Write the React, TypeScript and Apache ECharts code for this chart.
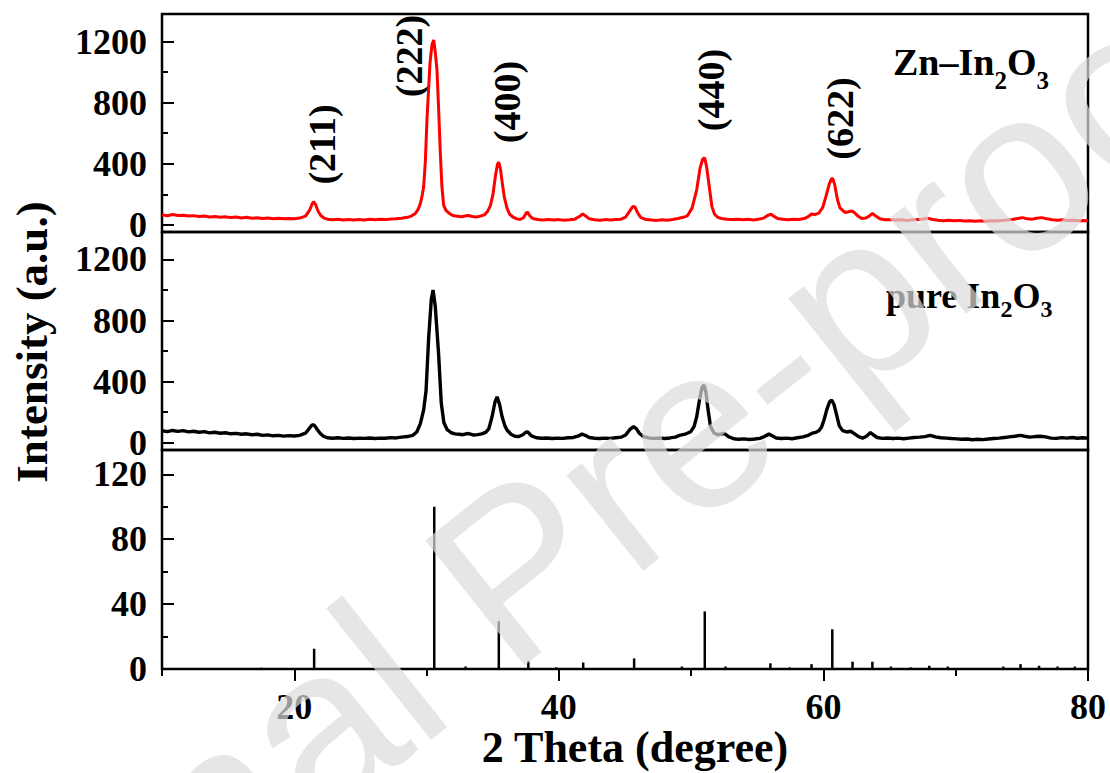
import React, { useEffect, useRef } from "react";
import * as echarts from "echarts";

const SERIF = "'Liberation Serif', 'Times New Roman', serif";

// Zn-doped In2O3 pattern: [2θ (deg), intensity (a.u.)]
const znIn2O3: [number, number][] = [
  [10.0, 66], [10.4, 60], [10.8, 68], [11.2, 62], [11.6, 64], [12.0, 58], [12.4, 61], [12.8, 55], [13.2, 58], [13.6, 52],
  [14.0, 56], [14.4, 50], [14.8, 53], [15.2, 49], [15.6, 52], [16.0, 46], [16.4, 50], [16.8, 44], [17.2, 47], [17.6, 42],
  [18.0, 45], [18.4, 41], [18.8, 44], [19.2, 40], [19.6, 43], [20.0, 41], [20.4, 45], [20.85, 58], [21.15, 95], [21.35, 138],
  [21.46, 152], [21.6, 135], [21.8, 90], [22.0, 62], [22.25, 45], [22.5, 38], [22.9, 34], [23.3, 37], [23.7, 33], [24.1, 36],
  [24.5, 32], [24.9, 35], [25.3, 33], [25.7, 37], [26.1, 34], [26.5, 38], [26.9, 35], [27.3, 39], [27.7, 41], [28.1, 44],
  [28.55, 50], [28.85, 58], [29.15, 75], [29.35, 100], [29.53, 140], [29.66, 190], [29.78, 250], [29.91, 420], [30.03, 690], [30.16, 900],
  [30.26, 1060], [30.41, 1180], [30.54, 1210], [30.66, 1130], [30.79, 1010], [30.91, 760], [31.04, 470], [31.16, 250], [31.29, 130], [31.46, 95],
  [31.66, 80], [31.86, 68], [32.06, 60], [32.36, 57], [32.66, 54], [32.96, 60], [33.17, 62], [33.47, 55], [33.77, 52], [34.07, 58],
  [34.37, 66], [34.62, 90], [34.82, 125], [35.02, 200], [35.22, 330], [35.37, 400], [35.46, 410], [35.58, 370], [35.73, 270], [35.88, 180],
  [36.08, 110], [36.28, 70], [36.53, 52], [36.83, 40], [37.08, 36], [37.33, 48], [37.53, 78], [37.63, 84], [37.78, 62], [38.03, 42],
  [38.4, 36], [38.8, 33], [39.2, 36], [39.6, 32], [40.0, 35], [40.4, 31], [40.8, 34], [41.2, 38], [41.55, 55], [41.8, 72],
  [42.0, 60], [42.3, 40], [42.7, 34], [43.1, 31], [43.5, 35], [43.9, 32], [44.3, 36], [44.7, 38], [45.05, 52], [45.35, 90],
  [45.6, 122], [45.75, 118], [45.95, 80], [46.2, 48], [46.6, 36], [47.0, 32], [47.4, 30], [47.8, 34], [48.2, 31], [48.6, 36],
  [49.0, 42], [49.4, 50], [49.72, 60], [50.07, 110], [50.42, 230], [50.67, 370], [50.87, 430], [51.02, 440], [51.17, 380], [51.37, 250],
  [51.57, 120], [51.77, 70], [52.02, 50], [52.3, 42], [52.7, 38], [53.1, 35], [53.5, 38], [53.9, 34], [54.3, 37], [54.7, 33],
  [55.1, 37], [55.48, 45], [55.78, 62], [56.03, 70], [56.23, 58], [56.53, 42], [56.93, 37], [57.33, 34], [57.73, 38], [58.13, 36],
  [58.55, 42], [58.85, 55], [59.1, 72], [59.35, 68], [59.65, 78], [59.95, 115], [60.2, 190], [60.45, 270], [60.6, 300], [60.7, 305],
  [60.85, 265], [61.05, 170], [61.25, 112], [61.45, 95], [61.65, 82], [61.9, 86], [62.16, 92], [62.36, 80], [62.61, 58], [62.91, 42],
  [63.21, 45], [63.46, 58], [63.71, 76], [63.96, 58], [64.26, 40], [64.66, 34], [65.06, 36], [65.46, 32], [65.86, 34], [66.26, 30],
  [66.66, 33], [67.06, 35], [67.46, 38], [67.87, 44], [68.27, 36], [68.67, 31], [69.07, 28], [69.47, 31], [69.87, 27], [70.27, 30],
  [70.67, 26], [71.07, 28], [71.47, 24], [71.87, 27], [72.27, 25], [72.67, 28], [73.07, 26], [73.47, 30], [73.87, 33], [74.27, 36],
  [74.67, 42], [75.05, 48], [75.4, 40], [75.8, 38], [76.1, 44], [76.5, 48], [76.9, 40], [77.3, 34], [77.7, 31], [78.1, 34],
  [78.5, 29], [78.9, 31], [79.3, 27], [79.65, 29], [80.0, 26],
];

// Undoped In2O3 pattern: [2θ (deg), intensity (a.u.)]
const pureIn2O3: [number, number][] = [
  [10.0, 78], [10.4, 72], [10.8, 80], [11.2, 74], [11.6, 79], [12.0, 71], [12.4, 75], [12.8, 68], [13.2, 72], [13.6, 64],
  [14.0, 68], [14.4, 62], [14.8, 65], [15.2, 58], [15.6, 61], [16.0, 55], [16.4, 58], [16.8, 52], [17.2, 55], [17.6, 48],
  [18.0, 51], [18.4, 45], [18.8, 48], [19.2, 43], [19.6, 46], [20.0, 44], [20.4, 48], [20.85, 62], [21.1, 90], [21.3, 112],
  [21.42, 118], [21.55, 110], [21.75, 85], [21.95, 62], [22.2, 42], [22.5, 32], [22.9, 29], [23.3, 32], [23.7, 28], [24.1, 31],
  [24.5, 27], [24.9, 30], [25.3, 28], [25.7, 31], [26.1, 27], [26.5, 30], [26.9, 29], [27.3, 33], [27.7, 31], [28.1, 36],
  [28.55, 40], [28.95, 48], [29.26, 70], [29.53, 125], [29.78, 215], [29.96, 340], [30.16, 690], [30.36, 940], [30.49, 1000], [30.66, 890],
  [30.91, 580], [31.11, 260], [31.31, 130], [31.56, 85], [31.86, 65], [32.16, 58], [32.46, 55], [32.76, 52], [33.06, 60], [33.26, 58],
  [33.56, 50], [33.86, 53], [34.16, 58], [34.47, 68], [34.7, 90], [34.95, 170], [35.17, 265], [35.33, 300], [35.52, 250], [35.71, 170],
  [35.92, 110], [36.08, 83], [36.38, 55], [36.68, 42], [36.98, 40], [37.28, 52], [37.53, 70], [37.68, 68], [37.93, 45], [38.3, 32],
  [38.7, 29], [39.1, 31], [39.5, 27], [39.9, 30], [40.3, 28], [40.7, 32], [41.1, 34], [41.5, 45], [41.75, 56], [42.0, 48],
  [42.3, 34], [42.7, 29], [43.1, 27], [43.5, 30], [43.9, 28], [44.3, 32], [44.7, 36], [45.05, 50], [45.35, 85], [45.65, 105],
  [45.85, 92], [46.1, 60], [46.4, 40], [46.8, 31], [47.2, 28], [47.6, 30], [48.0, 27], [48.4, 31], [48.8, 36], [49.2, 50],
  [49.62, 58], [49.97, 72], [50.22, 105], [50.42, 170], [50.62, 275], [50.82, 360], [50.97, 378], [51.12, 330], [51.27, 220], [51.47, 105],
  [51.72, 64], [52.02, 52], [52.32, 58], [52.52, 60], [52.82, 40], [53.22, 26], [53.6, 22], [54.0, 25], [54.4, 21], [54.8, 24],
  [55.2, 28], [55.53, 40], [55.88, 56], [56.13, 45], [56.43, 31], [56.83, 27], [57.23, 30], [57.63, 26], [58.03, 32], [58.45, 38],
  [58.85, 48], [59.15, 62], [59.43, 68], [59.65, 78], [59.85, 100], [60.05, 150], [60.25, 215], [60.45, 265], [60.62, 280], [60.8, 250],
  [61.0, 180], [61.2, 110], [61.45, 79], [61.76, 70], [62.06, 75], [62.36, 58], [62.66, 40], [62.96, 30], [63.26, 42], [63.56, 66],
  [63.76, 52], [64.06, 34], [64.46, 28], [64.86, 31], [65.26, 27], [65.66, 30], [66.06, 26], [66.46, 30], [66.86, 34], [67.27, 36],
  [67.67, 40], [68.07, 48], [68.47, 38], [68.87, 32], [69.27, 30], [69.67, 27], [70.07, 25], [70.47, 22], [70.87, 24], [71.27, 19],
  [71.67, 22], [72.07, 20], [72.47, 24], [72.87, 27], [73.27, 30], [73.67, 34], [74.07, 38], [74.47, 42], [74.9, 48], [75.2, 42],
  [75.6, 36], [76.0, 40], [76.4, 42], [76.8, 38], [77.2, 30], [77.6, 28], [78.0, 33], [78.4, 30], [78.8, 34], [79.2, 29],
  [79.6, 32], [80.0, 30],
];

// Standard cubic In2O3 reference lines: [2θ (deg), relative intensity]
const referenceLines: [number, number][] = [
  [17.5, 0.8], [21.5, 12.5], [24.8, 0.6], [30.58, 100], [32.95, 1.5], [35.46, 29.5], [37.69, 5], [39.8, 1],
  [41.84, 4], [45.69, 6.5], [49.3, 1.5], [51.03, 35.5], [52.6, 1.5], [55.99, 3.5], [57.45, 1], [59.1, 3],
  [60.67, 24.5], [62.2, 4.5], [63.7, 4.5], [65.1, 1.5], [66.6, 1], [68.0, 2], [69.4, 1.5], [73.6, 1.5],
  [74.9, 3], [76.3, 2], [77.7, 1.5], [79.0, 1.5],
];

const thetaMajorTicks = [20, 40, 60, 80];
const thetaMinorTicks = [10, 30, 50, 70];
const intensityMajorTicks = [0, 400, 800, 1200];
const intensityMinorTicks = [200, 600, 1000];
const referenceMajorTicks = [0, 40, 80, 120];
const referenceMinorTicks = [20, 60, 100];
const reflections = ["(211)", "(222)", "(400)", "(440)", "(622)"];

export default function App() {
  const ref = useRef<HTMLDivElement>(null);

  useEffect(() => {
    if (!ref.current) return;
    const chart = echarts.init(ref.current, null, { renderer: "svg" });

    const left = 162;
    const width = 926;
    const tickStyle = { color: "#000", width: 2 };
    const plain = (v: number) => String(v);
    const labelFont = { fontFamily: SERIF, fontWeight: "bold" as const, fontSize: 36, color: "#000" };

    const frame = (top: number, height: number) => ({
      left, width, top, height, show: true, borderColor: "#000", borderWidth: 2.5, backgroundColor: "transparent",
    });

    const bareX = (gridIndex: number) => ({
      type: "value", gridIndex, min: 10, max: 80, position: "bottom",
      axisLine: { show: false }, axisTick: { show: false }, axisLabel: { show: false }, splitLine: { show: false },
    });

    const yAxisPair = (gridIndex: number, min: number, max: number, major: number[], minor: number[]) => [
      {
        type: "value", gridIndex, min, max, position: "left",
        axisLine: { show: false },
        axisTick: { show: true, inside: true, length: 12, customValues: major, lineStyle: tickStyle },
        axisLabel: { show: true, customValues: major, margin: 15, formatter: plain, ...labelFont },
        splitLine: { show: false },
      },
      {
        type: "value", gridIndex, min, max, position: "left",
        axisLine: { show: false },
        axisTick: { show: true, inside: true, length: 6, customValues: minor, lineStyle: tickStyle },
        axisLabel: { show: false },
        splitLine: { show: false },
      },
    ];

    const hklPositions = [
      [321.5, 144.5], [409, 56], [506.7, 102], [711, 90], [840, 118.5],
    ];

    // Formula text with subscripts; sub tokens sit at the bottom of a taller line box.
    const formulaRich = (size: number, subSize: number, lineHeight: number) => ({
      m: { fontSize: size, fontWeight: "bold", fontFamily: SERIF, fill: "#000", lineHeight, verticalAlign: "middle" },
      s: { fontSize: subSize, fontWeight: "bold", fontFamily: SERIF, fill: "#000", lineHeight: subSize, verticalAlign: "bottom" },
    });

    chart.setOption({
      animation: false,
      backgroundColor: "#fff",
      grid: [frame(14, 218), frame(232, 218), frame(450, 219)],
      xAxis: [
        bareX(0),
        bareX(1),
        {
          type: "value", gridIndex: 2, min: 10, max: 80, position: "bottom",
          axisLine: { show: false },
          axisTick: { show: true, inside: false, length: 12, customValues: thetaMajorTicks, lineStyle: tickStyle },
          axisLabel: { show: true, customValues: thetaMajorTicks, margin: 20, formatter: plain, ...labelFont },
          splitLine: { show: false },
        },
        {
          type: "value", gridIndex: 2, min: 10, max: 80, position: "bottom",
          axisLine: { show: false },
          axisTick: { show: true, inside: false, length: 7, customValues: thetaMinorTicks, lineStyle: tickStyle },
          axisLabel: { show: false },
          splitLine: { show: false },
        },
      ],
      yAxis: [
        ...yAxisPair(0, -46, 1380, intensityMajorTicks, intensityMinorTicks),
        ...yAxisPair(1, -48, 1380, intensityMajorTicks, intensityMinorTicks),
        ...yAxisPair(2, 0, 135, referenceMajorTicks, referenceMinorTicks),
      ],
      series: [
        {
          name: "Zn-In2O3", type: "line", xAxisIndex: 0, yAxisIndex: 0, data: znIn2O3,
          showSymbol: false, symbol: "none", silent: true,
          lineStyle: { color: "#ff0000", width: 3 },
        },
        {
          name: "pure In2O3", type: "line", xAxisIndex: 1, yAxisIndex: 2, data: pureIn2O3,
          showSymbol: false, symbol: "none", silent: true,
          lineStyle: { color: "#000", width: 3.4 },
        },
        {
          name: "reference", type: "bar", xAxisIndex: 2, yAxisIndex: 4, data: referenceLines,
          barWidth: 2.5, silent: true, itemStyle: { color: "#000" },
        },
      ],
      graphic: [
        ...reflections.map((hkl, i) => ({
          type: "text", x: hklPositions[i][0], y: hklPositions[i][1], rotation: Math.PI / 2, silent: true,
          style: {
            text: hkl, fill: "#000", fontSize: 38, fontWeight: "bold", fontFamily: SERIF,
            textAlign: "center", textVerticalAlign: "middle", align: "center", verticalAlign: "middle",
          },
        })),
        {
          type: "text", x: 893, y: 31, silent: true,
          style: {
            text: "{m|Zn\u2013In}{s|2}{m|O}{s|3}", rich: formulaRich(38, 25, 62),
            textAlign: "left", textVerticalAlign: "top", align: "left", verticalAlign: "top",
          },
        },
        {
          type: "text", x: 886, y: 270, silent: true,
          style: {
            text: "{m|pure In}{s|2}{m|O}{s|3}", rich: formulaRich(36, 24, 51),
            textAlign: "left", textVerticalAlign: "top", align: "left", verticalAlign: "top",
          },
        },
        {
          type: "text", x: 32, y: 342, rotation: Math.PI / 2, silent: true,
          style: {
            text: "Intensity (a.u.)", fill: "#000", fontSize: 45, fontWeight: "bold", fontFamily: SERIF,
            textAlign: "center", textVerticalAlign: "middle", align: "center", verticalAlign: "middle",
          },
        },
        {
          type: "text", x: 635, y: 747, silent: true,
          style: {
            text: "2 Theta (degree)", fill: "#000", fontSize: 44, fontWeight: "bold", fontFamily: SERIF,
            textAlign: "center", textVerticalAlign: "middle", align: "center", verticalAlign: "middle",
          },
        },
        {
          type: "text", x: 515, y: 570, rotation: (38.5 * Math.PI) / 180, silent: true, z: 100,
          style: {
            text: "Journal Pre-proof", fill: "#dcdcdc", opacity: 0.7, fontSize: 232,
            fontFamily: "'Liberation Sans', Arial, sans-serif",
            textAlign: "center", textVerticalAlign: "middle", align: "center", verticalAlign: "middle",
          },
        },
      ],
    });

    return () => chart.dispose();
  }, []);

  return (
    <div
      ref={ref}
      style={{ position: "absolute", left: 0, top: 0, width: 1110, height: 773, background: "#fff" }}
    />
  );
}
